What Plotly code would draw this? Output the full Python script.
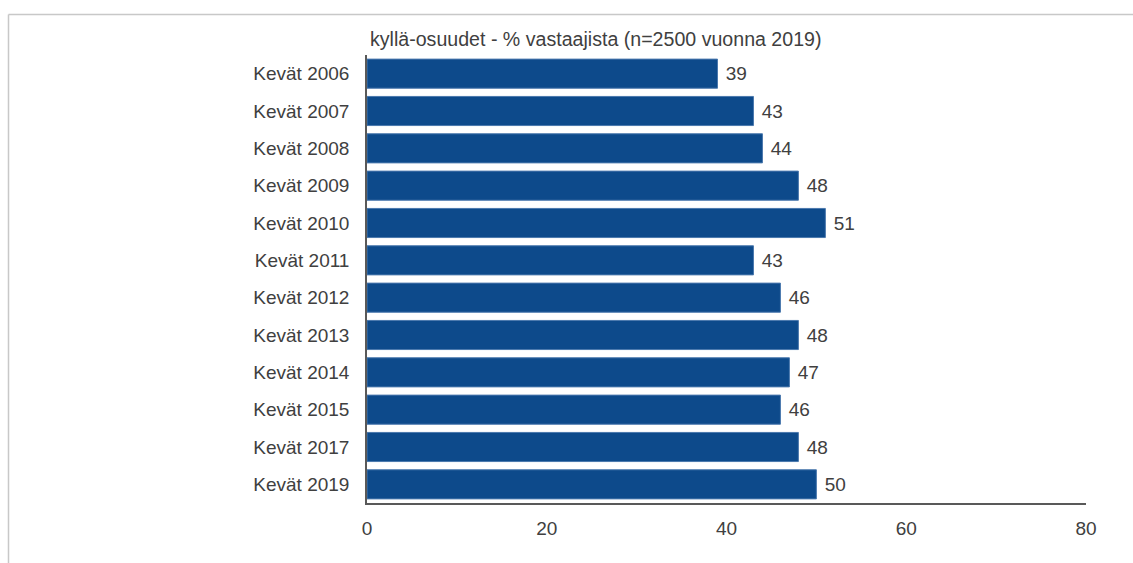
import plotly.graph_objects as go

categories = ["Kevät 2006", "Kevät 2007", "Kevät 2008", "Kevät 2009", "Kevät 2010",
              "Kevät 2011", "Kevät 2012", "Kevät 2013", "Kevät 2014", "Kevät 2015",
              "Kevät 2017", "Kevät 2019"]
values = [39, 43, 44, 48, 51, 43, 46, 48, 47, 46, 48, 50]
x_ticks = [0, 20, 40, 60, 80]
title_text = "kyllä-osuudet - % vastaajista (n=2500 vuonna 2019)"

FONT = "Liberation Sans, Arial, sans-serif"
TXT = "#404040"
W, H = 1133, 563
L, R, T, B = 367, 47, 55, 60
pw, ph = W - L - R, H - T - B

fig = go.Figure(go.Bar(
    x=values, y=categories, orientation="h",
    marker=dict(color="#0d4a8b", line=dict(color="#4a78ad", width=1)),
    text=values, texttemplate="\u00a0%{text}", textposition="outside",
    textfont=dict(family=FONT, size=19, color=TXT),
    cliponaxis=False,
))

def px_x(p):
    return (p - L) / pw

def px_y(p):
    return (H - B - p) / ph

fig.update_layout(
    width=W, height=H,
    margin=dict(l=L, r=R, t=T, b=B),
    paper_bgcolor="white", plot_bgcolor="white",
    bargap=0.22,
    showlegend=False,
    font=dict(family=FONT, size=19, color=TXT),
    xaxis=dict(range=[0, 80], tickvals=x_ticks, showgrid=False, zeroline=False,
               showline=True, linecolor="#595959", linewidth=1.5,
               ticks="", ticklabelstandoff=7,
               tickfont=dict(family=FONT, size=19, color=TXT)),
    yaxis=dict(autorange="reversed", showgrid=False, zeroline=False,
               showline=True, linecolor="#595959", linewidth=1.5,
               ticks="", ticklabelstandoff=12,
               tickfont=dict(family=FONT, size=19, color=TXT)),
    annotations=[dict(text=title_text, xref="paper", yref="paper",
                      x=px_x(368), y=px_y(39), xanchor="left", yanchor="middle",
                      showarrow=False, font=dict(family=FONT, size=19.6, color=TXT))],
    shapes=[
        dict(type="line", xref="paper", yref="paper",
             x0=px_x(8.5), x1=px_x(8.5), y0=px_y(14.5), y1=px_y(600),
             line=dict(color="#c8c8c8", width=1.5)),
        dict(type="line", xref="paper", yref="paper",
             x0=px_x(8.5), x1=px_x(1200), y0=px_y(14.5), y1=px_y(14.5),
             line=dict(color="#c8c8c8", width=1.5)),
    ],
)

fig.write_html("out.html")
